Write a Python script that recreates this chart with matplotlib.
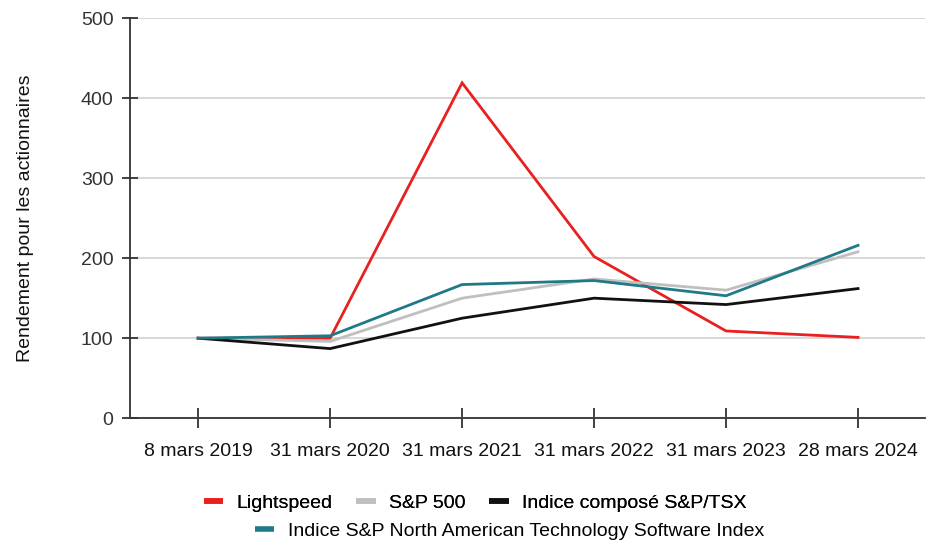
import matplotlib.pyplot as plt
from matplotlib.lines import Line2D

plt.rcParams["font.family"] = ["Liberation Sans", "DejaVu Sans"]

dates = ["8 mars 2019", "31 mars 2020", "31 mars 2021", "31 mars 2022", "31 mars 2023", "28 mars 2024"]
lightspeed = [100, 100, 419, 202, 109, 101]
sp500 = [100, 96, 150, 174, 160, 208]
tsx = [100, 87, 125, 150, 142, 162]
tech = [100, 103, 167, 172, 153, 216]

series = [
    ("Lightspeed", lightspeed, "#e8201f"),
    ("S&P 500", sp500, "#bfbfbf"),
    ("Indice composé S&P/TSX", tsx, "#111111"),
    ("Indice S&P North American Technology Software Index", tech, "#1f7a87"),
]

FS = 14

fig = plt.figure(figsize=(9.3, 5.46), dpi=100)
ax = fig.add_axes([0.14, 0.234, 0.855, 0.733])

x = list(range(len(dates)))
for label, vals, color in series:
    ax.plot(x, vals, color=color, lw=2.0, label=label, solid_joinstyle="miter")

ax.set_xlim(-0.515, 5.51)
ax.set_ylim(0, 500)
ax.set_yticks([0, 100, 200, 300, 400, 500])
ax.set_xticks(x)
ax.set_xticklabels(dates)

ax.grid(axis="y", color="#d9d9d9", lw=1.5)
ax.set_axisbelow(True)
for s in ["top", "right"]:
    ax.spines[s].set_visible(False)
for s in ["left", "bottom"]:
    ax.spines[s].set_color("#333333")
    ax.spines[s].set_linewidth(1.3)

ax.tick_params(axis="x", direction="inout", length=15, width=1.3, color="#333333",
               pad=10, labelsize=FS, labelcolor="#111111")
ax.tick_params(axis="y", direction="inout", length=12, width=1.3, color="#333333",
               pad=6, labelsize=FS, labelcolor="#333333")

ax.set_ylabel("Rendement pour les actionnaires", fontsize=FS, color="#111111", labelpad=34)

def handle(color):
    return Line2D([], [], color=color, lw=4, solid_capstyle="butt")

row1 = series[:3]
leg1 = fig.legend([handle(c) for _, _, c in row1], [l for l, _, _ in row1],
                  loc="center", bbox_to_anchor=(0.511, 0.079), ncol=3, frameon=False,
                  fontsize=FS, handlelength=1.0, handletextpad=0.7, columnspacing=1.2)
fig.add_artist(leg1)
lab, _, col = series[3]
fig.legend([handle(col)], [lab], loc="center", bbox_to_anchor=(0.548, 0.027),
           frameon=False, fontsize=FS, handlelength=1.0, handletextpad=0.7)

fig.savefig("out.png", dpi=100)
